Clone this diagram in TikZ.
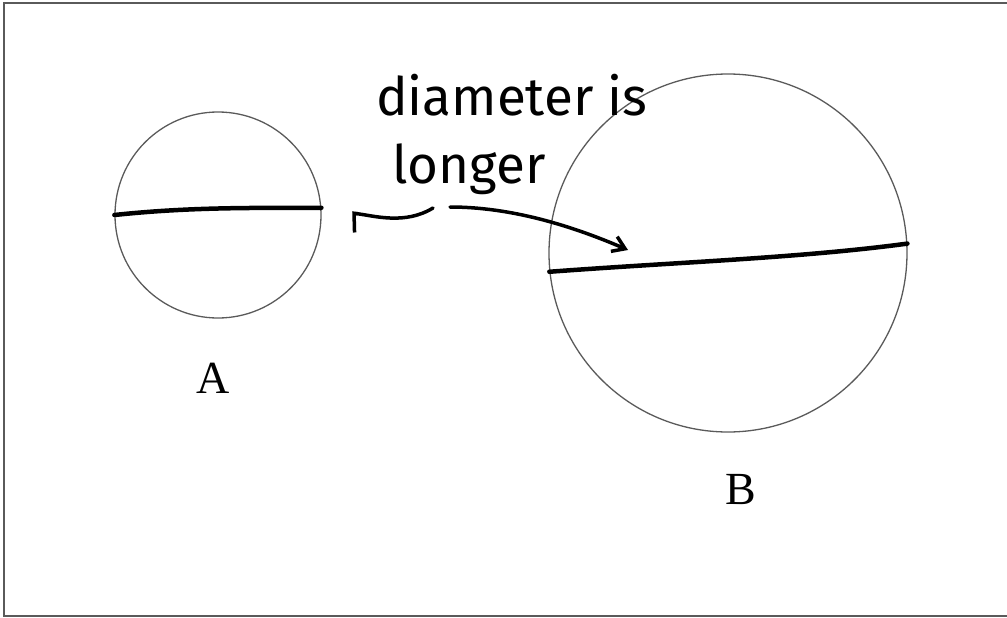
\documentclass[tikz,border=0pt]{standalone}
\usepackage{fontspec}
\setmainfont{Liberation Serif}
\newfontfamily\handfont{Fira Sans}
\usepackage{xcolor}
\usetikzlibrary{arrows.meta,positioning}
\definecolor{rim}{RGB}{90,90,90}

\begin{document}
\begin{tikzpicture}[
    x=1pt,y=-1pt,
    disc/.style={circle,draw=rim,line width=1.3pt,inner sep=0pt},
    letter/.style={font=\fontsize{46}{50}\selectfont},
    chord/.style={line width=4.5pt,line cap=round},
    pointer/.style={line width=3.5pt,line cap=round},
    >={Straight Barb[length=12pt,width=16pt]}
]
\useasboundingbox (0,0) rectangle (1007,618);
\draw[rim,line width=2pt] (4,3) rectangle (1010,616);
\node[disc,minimum size=206] (circA) at (218,215) {};
\node[disc,minimum size=358] (circB) at (728,253) {};
\node[letter] (labA) at (213,378) {A};
\node[letter] (labB) at (741,490) {B};
% hand drawn diameters
\draw[chord] (circA.west) .. controls (190,207) and (250,208) .. (circA.4);
\draw[chord] (circB.186) .. controls (680,262) and (800,258) .. (circB.3);
% note and arrows
\node[font=\handfont\fontsize{53}{68}\selectfont,align=left,anchor=north west,inner sep=0pt] (note) at (376,74) {diameter is\\\hspace*{16pt}longer};
\coordinate (tailL) at (433,208);
\coordinate (tailR) at (450,207);
\coordinate (tipL) at (352,213);
\coordinate (tipR) at (628,250);
\draw[pointer,-{Straight Barb[left,length=3pt,width=38pt]}] (tailL) .. controls (405,225) and (375,216) .. (tipL);
\draw[pointer,->] (tailR) .. controls (510,207) and (570,225) .. (tipR);
\end{tikzpicture}
\end{document}
